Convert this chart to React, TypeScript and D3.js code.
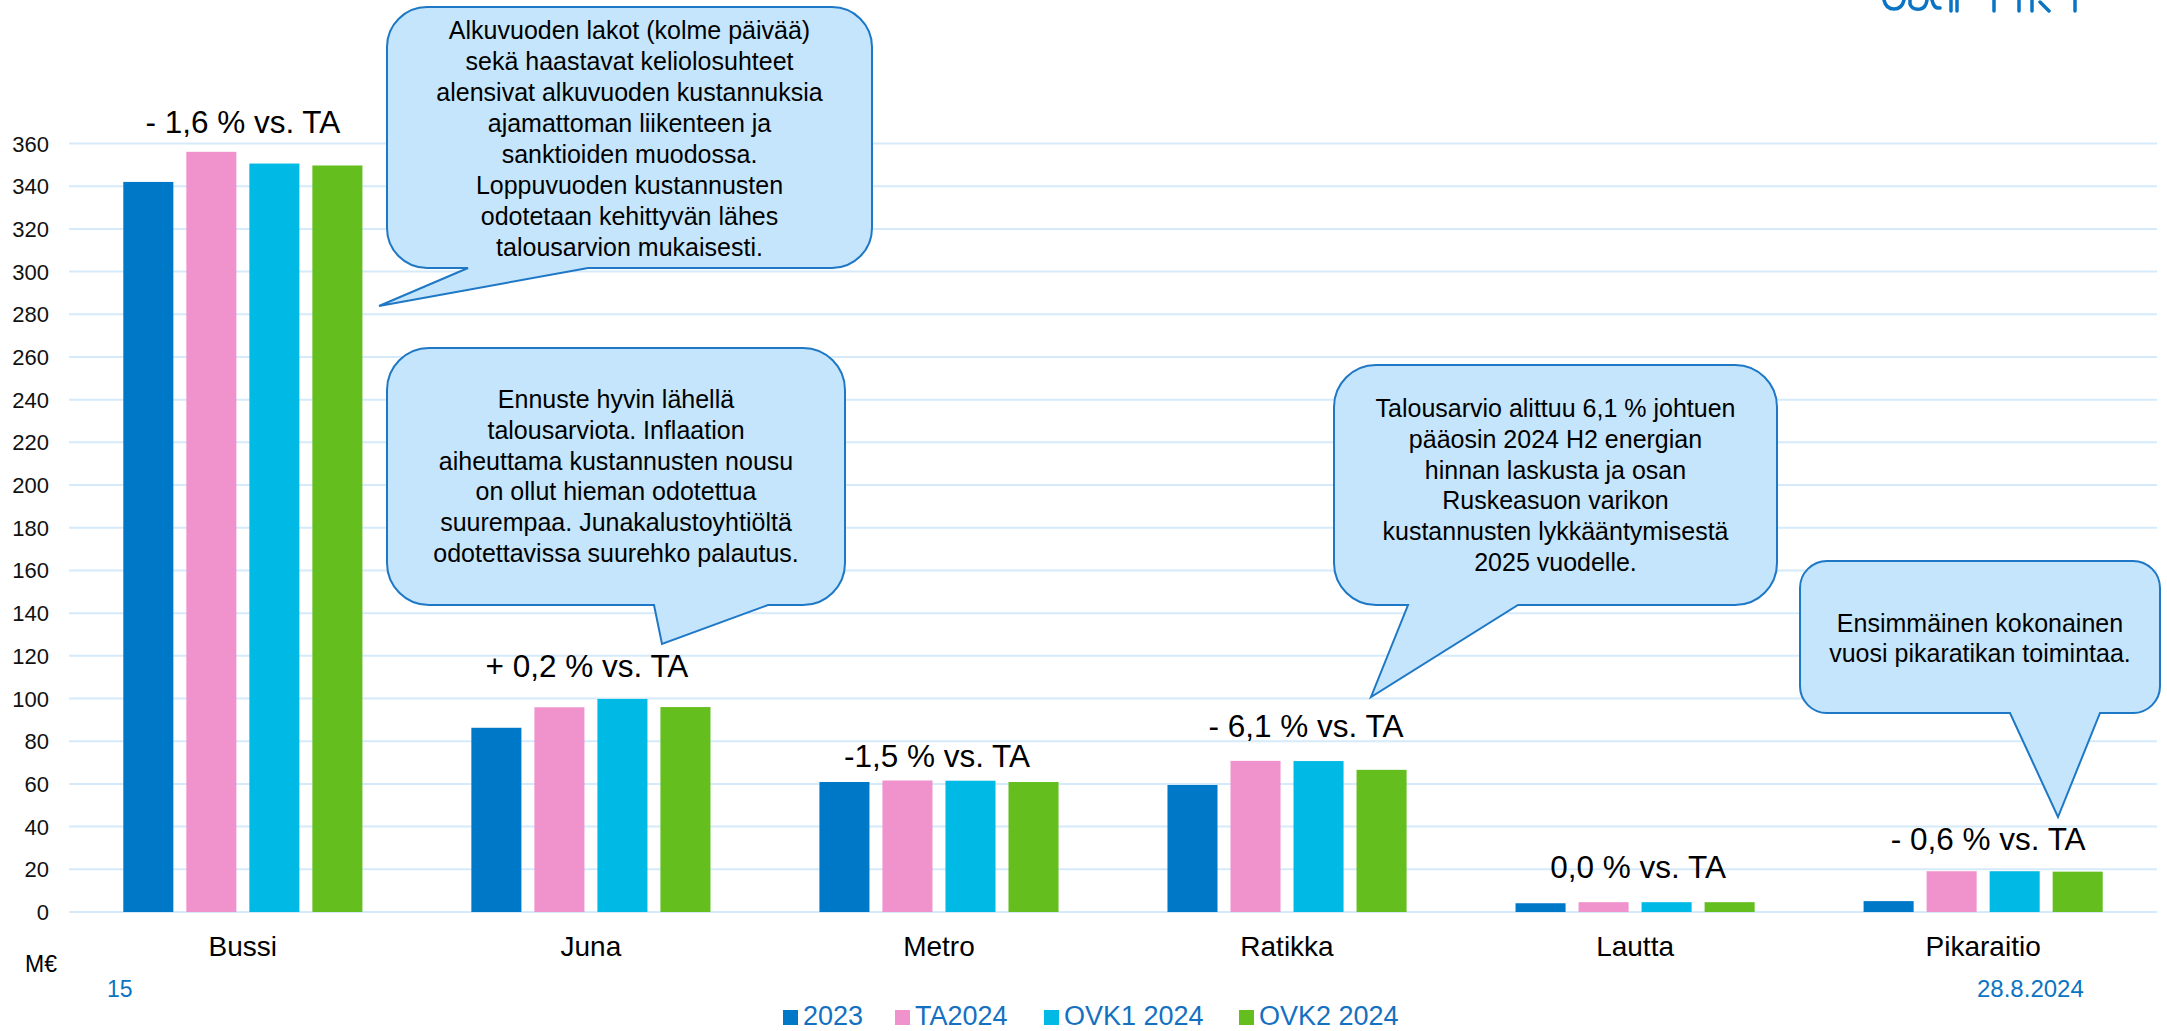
import React from 'react';
import * as d3 from 'd3';

const categories = ['Bussi', 'Juna', 'Metro', 'Ratikka', 'Lautta', 'Pikaraitio'];
const seriesNames = ['2023', 'TA2024', 'OVK1 2024', 'OVK2 2024'];
const values2023 = [342.0, 86.3, 60.9, 59.5, 4.1, 5.1];
const valuesTA2024 = [356.1, 95.9, 61.6, 70.8, 4.6, 19.1];
const valuesOVK1 = [350.6, 99.8, 61.5, 70.7, 4.6, 19.1];
const valuesOVK2 = [349.7, 96.0, 60.9, 66.6, 4.6, 18.9];
const deltaLabels = ['- 1,6 % vs. TA', '+ 0,2 % vs. TA', '-1,5 % vs. TA', '- 6,1 % vs. TA', '0,0 % vs. TA', '- 0,6 % vs. TA'];
const deltaLabelLevel = [365, 110, 68, 82, 16, 29];
const yTicks = d3.range(0, 361, 20);
const unitLabel = 'M€';
const pageNumber = '15';
const dateLabel = '28.8.2024';

const callout1 = ['Alkuvuoden lakot (kolme päivää)', 'sekä haastavat keliolosuhteet', 'alensivat alkuvuoden kustannuksia', 'ajamattoman liikenteen ja', 'sanktioiden muodossa.', 'Loppuvuoden kustannusten', 'odotetaan kehittyvän lähes', 'talousarvion mukaisesti.'];
const callout2 = ['Ennuste hyvin lähellä', 'talousarviota. Inflaation', 'aiheuttama kustannusten nousu', 'on ollut hieman odotettua', 'suurempaa. Junakalustoyhtiöltä', 'odotettavissa suurehko palautus.'];
const callout3 = ['Talousarvio alittuu 6,1 % johtuen', 'pääosin 2024 H2 energian', 'hinnan laskusta ja osan', 'Ruskeasuon varikon', 'kustannusten lykkääntymisestä', '2025 vuodelle.'];
const callout4 = ['Ensimmäinen kokonainen', 'vuosi pikaratikan toimintaa.'];

const W = 2167;
const H = 1031;
const FONT = '"Liberation Sans", Arial, sans-serif';
const colors = ['#0078C8', '#F093CD', '#00B9E4', '#64BE1E'];
const gridColor = '#D5EAFA';
const calloutFill = '#C4E5FB';
const calloutStroke = '#1E78C6';
const blueText = '#0A74C4';

const seriesValues = [values2023, valuesTA2024, valuesOVK1, valuesOVK2];
const deltaDx = [0, -4, -2, 19, 3, 5];

type Callout = {
  x0: number; y0: number; x1: number; y1: number; r: number;
  baseA: number; baseB: number; tip: [number, number];
  lines: string[]; firstBaseline: number; lh: number;
};

const callouts: Callout[] = [
  { x0: 387, y0: 7, x1: 872, y1: 268, r: 40, baseA: 468, baseB: 588, tip: [379, 306], lines: callout1, firstBaseline: 39, lh: 31 },
  { x0: 387, y0: 348, x1: 845, y1: 605, r: 42, baseA: 654, baseB: 768, tip: [662, 644], lines: callout2, firstBaseline: 408, lh: 30.8 },
  { x0: 1334, y0: 365, x1: 1777, y1: 605, r: 42, baseA: 1408, baseB: 1518, tip: [1371, 697], lines: callout3, firstBaseline: 417, lh: 30.8 },
  { x0: 1800, y0: 561, x1: 2160, y1: 713, r: 27, baseA: 2010, baseB: 2100, tip: [2058, 817], lines: callout4, firstBaseline: 632, lh: 30 },
];

function calloutPath(c: Callout): string {
  const p = d3.path();
  const { x0, y0, x1, y1, r } = c;
  p.moveTo(x0 + r, y0);
  p.lineTo(x1 - r, y0);
  p.arcTo(x1, y0, x1, y0 + r, r);
  p.lineTo(x1, y1 - r);
  p.arcTo(x1, y1, x1 - r, y1, r);
  p.lineTo(c.baseB, y1);
  p.lineTo(c.tip[0], c.tip[1]);
  p.lineTo(c.baseA, y1);
  p.lineTo(x0 + r, y1);
  p.arcTo(x0, y1, x0, y1 - r, r);
  p.lineTo(x0, y0 + r);
  p.arcTo(x0, y0, x0 + r, y0, r);
  p.closePath();
  return p.toString();
}

const legendX = [783, 895, 1044, 1239];

export default function App() {
  const plotLeft = 69;
  const plotRight = 2157;
  const x0 = d3.scaleBand<string>().domain(categories).range([plotLeft, plotRight]).paddingInner(0.313).paddingOuter(0.156);
  const x1 = d3.scaleBand<string>().domain(seriesNames).range([0, x0.bandwidth()]).paddingInner(0.206).paddingOuter(0);
  const y = d3.scaleLinear().domain([0, 360]).range([912, 143.5]);

  return (
    <svg width={W} height={H} style={{ position: 'absolute', left: 0, top: 0, background: '#fff' }} fontFamily={FONT}>
      <rect x={0} y={0} width={W} height={H} fill="#fff" />
      {/* cropped logo (only its lower edge is visible) */}
      <g fill="none" stroke={blueText} strokeWidth={3.5} strokeLinecap="round">
        <path d="M1884,0 Q1886,9 1894,9 Q1902,9 1904,0" />
        <path d="M1910,0 L1910,4 Q1912,10 1920,9 Q1926,8 1927,0" />
        <path d="M1932,0 Q1934,9 1940,8" />
        <line x1={1951} y1={0} x2={1951} y2={11} />
        <line x1={1957} y1={0} x2={1957} y2={11} />
        <line x1={1994} y1={0} x2={1994} y2={11} />
        <line x1={2019} y1={0} x2={2019} y2={11} />
        <line x1={2032} y1={0} x2={2032} y2={11} />
        <line x1={2040} y1={2} x2={2049} y2={11} />
        <line x1={2075} y1={0} x2={2075} y2={11} />
      </g>
      {/* gridlines */}
      <g>
        {yTicks.map((t) => (
          <line key={t} x1={plotLeft} x2={plotRight} y1={y(t)} y2={y(t)} stroke={gridColor} strokeWidth={2} />
        ))}
      </g>
      {/* y tick labels */}
      <g fontSize={22} fill="#111" textAnchor="end">
        {yTicks.map((t) => (
          <text key={t} x={49} y={y(t) + 8}>{t}</text>
        ))}
      </g>
      {/* bars */}
      <g>
        {categories.map((c, ci) => (
          <g key={c} transform={`translate(${x0(c)},0)`}>
            {seriesNames.map((s, si) => {
              const v = seriesValues[si][ci];
              return <rect key={s} x={x1(s)} y={y(v)} width={x1.bandwidth()} height={y(0) - y(v)} fill={colors[si]} />;
            })}
          </g>
        ))}
      </g>
      {/* category labels */}
      <g fontSize={28} fill="#000" textAnchor="middle">
        {categories.map((c) => (
          <text key={c} x={(x0(c) as number) + x0.bandwidth() / 2} y={956}>{c}</text>
        ))}
      </g>
      {/* delta labels */}
      <g fontSize={31.5} fill="#000" textAnchor="middle">
        {categories.map((c, ci) => (
          <text key={c} x={(x0(c) as number) + x0.bandwidth() / 2 + deltaDx[ci]} y={y(deltaLabelLevel[ci])}>{deltaLabels[ci]}</text>
        ))}
      </g>
      {/* callouts */}
      {callouts.map((c, i) => (
        <g key={i}>
          <path d={calloutPath(c)} fill={calloutFill} stroke={calloutStroke} strokeWidth={2} />
          <g fontSize={25} fill="#000" textAnchor="middle">
            {c.lines.map((l, li) => (
              <text key={li} x={(c.x0 + c.x1) / 2} y={c.firstBaseline + li * c.lh}>{l}</text>
            ))}
          </g>
        </g>
      ))}
      {/* unit, page and date */}
      <text x={25} y={972} fontSize={23} fill="#000">{unitLabel}</text>
      <text x={107} y={997} fontSize={23} fill={blueText}>{pageNumber}</text>
      <text x={1977} y={997} fontSize={24} fill={blueText}>{dateLabel}</text>
      {/* legend */}
      <g>
        {seriesNames.map((s, i) => (
          <g key={s}>
            <rect x={legendX[i]} y={1010} width={15} height={15} fill={colors[i]} />
            <text x={legendX[i] + 20} y={1025} fontSize={27} fill="#1470C0">{s}</text>
          </g>
        ))}
      </g>
    </svg>
  );
}
